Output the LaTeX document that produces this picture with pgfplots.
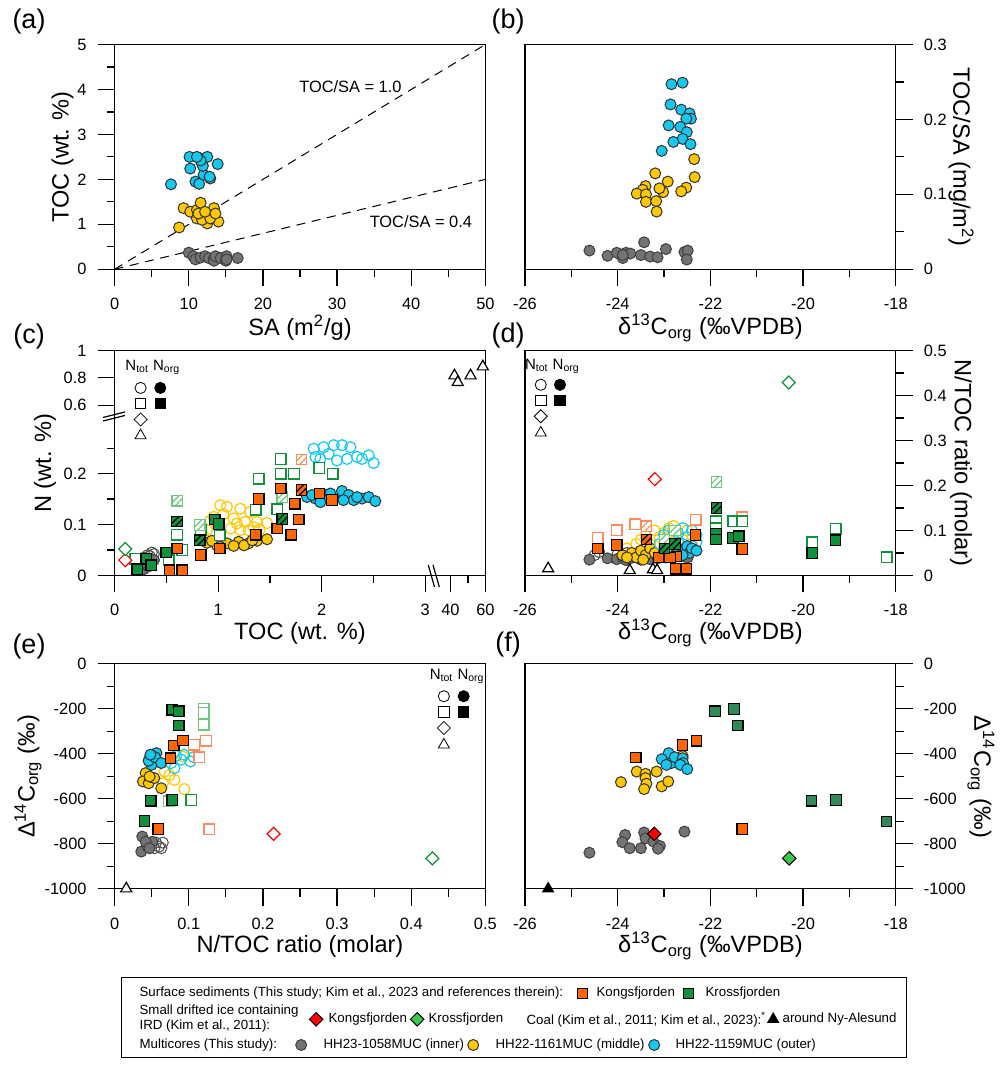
\documentclass[border=0pt]{standalone}
\usepackage{fontspec}
\setmainfont{Liberation Sans}
\usepackage{pgfplots}
\pgfplotsset{compat=1.18}

\definecolor{cgrey}{RGB}{115,115,115}
\definecolor{cyel}{RGB}{255,200,0}
\definecolor{cblue}{RGB}{20,200,240}
\definecolor{corg}{RGB}{255,102,0}
\definecolor{cgrn}{RGB}{16,145,60}
\definecolor{cgrnf}{RGB}{46,139,87}
\definecolor{lgrn}{RGB}{110,200,130}
\definecolor{lorg}{RGB}{255,140,90}
\definecolor{clime}{RGB}{60,200,80}

% hatched square mark
\pgfdeclareplotmark{hsq}{%
  \pgfpathrectangle{\pgfqpoint{-\pgfplotmarksize}{-\pgfplotmarksize}}{\pgfqpoint{2\pgfplotmarksize}{2\pgfplotmarksize}}%
  \pgfusepathqfillstroke
  \pgfpathmoveto{\pgfqpoint{-\pgfplotmarksize}{-0.4\pgfplotmarksize}}%
  \pgfpathlineto{\pgfqpoint{0.4\pgfplotmarksize}{\pgfplotmarksize}}%
  \pgfpathmoveto{\pgfqpoint{-0.4\pgfplotmarksize}{-\pgfplotmarksize}}%
  \pgfpathlineto{\pgfqpoint{\pgfplotmarksize}{0.4\pgfplotmarksize}}%
  \pgfusepathqstroke}

\newcommand\Lab{\fontsize{11.8}{14}\selectfont}
\newcommand\Tck{\fontsize{8.2}{9}\selectfont}
\newcommand\Leg{\fontsize{6.65}{7.2}\selectfont}

\pgfplotsset{
  panel/.style={scale only axis, width=185.4pt, height=112.4pt, anchor=south west,
    axis line style={line width=0.6pt}, tick style={black, line width=0.6pt},
    tick align=outside, major tick length=8.5pt, minor tick length=4pt,
    xtick pos=bottom, ytick pos=left,
    ticklabel style={font=\Tck},
    xticklabel shift=2.4pt, yticklabel shift=2pt,
    /pgf/number format/assume math mode=true, /pgf/number format/1000 sep={},
    clip=false},
  mk/.style={only marks, mark size=2.75pt},
  gF/.style={mk, mark=*, mark options={fill=cgrey, draw=black!75, line width=0.5pt}},
  yF/.style={mk, mark=*, mark options={fill=cyel, draw=black!80, line width=0.5pt}},
  bF/.style={mk, mark=*, mark options={fill=cblue, draw=black!80, line width=0.5pt}},
  gO/.style={mk, mark=o, mark options={draw=black!70, line width=0.5pt}},
  yO/.style={mk, mark=o, mark options={draw=cyel, line width=0.6pt}},
  bO/.style={mk, mark=o, mark options={draw=cblue, line width=0.6pt}},
  oF/.style={mk, mark=square*, mark size=2.65pt, mark options={fill=corg, draw=black, line width=0.6pt}},
  kF/.style={mk, mark=square*, mark size=2.65pt, mark options={fill=cgrn, draw=black, line width=0.6pt}},
  oO/.style={mk, mark=square*, mark size=2.65pt, mark options={fill=white, draw=lorg, line width=0.7pt}},
  kO/.style={mk, mark=square*, mark size=2.65pt, mark options={fill=white, draw=cgrn, line width=0.7pt}},
  kL/.style={mk, mark=square*, mark size=2.65pt, mark options={fill=white, draw=lgrn, line width=0.7pt}},
  oH/.style={mk, mark=hsq, mark size=2.65pt, mark options={fill=corg, draw=black, line width=0.6pt}},
  kH/.style={mk, mark=hsq, mark size=2.65pt, mark options={fill=cgrn, draw=black, line width=0.6pt}},
  oHL/.style={mk, mark=hsq, mark size=2.65pt, mark options={fill=white, draw=lorg, line width=0.6pt}},
  kHL/.style={mk, mark=hsq, mark size=2.65pt, mark options={fill=white, draw=lgrn, line width=0.6pt}},
  dia/.style={mk, mark=square*, mark size=2.3pt, mark options={rotate=45, fill=white, draw=#1, line width=0.6pt}},
  diaF/.style 2 args={mk, mark=square*, mark size=2.4pt, mark options={rotate=45, fill=#1, draw=#2, line width=0.5pt}},
  triO/.style={mk, mark=triangle*, mark size=3.2pt, mark options={fill=white, draw=black, line width=0.6pt}},
  triF/.style={mk, mark=triangle*, mark size=3.2pt, mark options={fill=black, draw=black}},
}

\begin{document}
\begin{tikzpicture}
\begin{scope}[x=0.5pt, y=-0.5pt, yshift=534.5pt]
\path[use as bounding box] (0,0) rectangle (1005,1069);
\end{scope}

% ---------- (a) ----------
\begin{axis}[panel, at={(57.3pt,399.85pt)},
  xmin=0, xmax=50, ymin=0, ymax=5,
  xtick={0,10,...,50}, ytick={0,1,...,5}, minor x tick num=1, minor y tick num=1]
\addplot[black, line width=0.5pt, dash pattern=on 4.5pt off 3.3pt] coordinates {(0,0) (50,5)};
\addplot[black, line width=0.5pt, dash pattern=on 4.5pt off 3.3pt] coordinates {(0,0) (50,2)};
\addplot[bF] coordinates {(7.6,1.89) (10.1,2.50) (10.2,2.24) (11.5,2.47) (11.8,2.36) (12.5,2.50) (12.0,2.10) (10.9,1.95) (11.4,1.90) (12.9,2.02) (13.9,2.34) (11.9,2.30) (11.6,2.42) (12.8,2.06) (11.1,2.50)};
\addplot[yF] coordinates {(8.7,0.93) (9.3,1.36) (10.2,1.28) (11.1,1.32) (11.6,1.48) (12.4,1.24) (13.4,1.36) (14.0,1.06) (12.5,1.02) (11.1,1.13) (11.8,1.10) (12.9,1.13) (11.3,1.24) (12.2,1.28) (13.6,1.24)};
\addplot[gF] coordinates {(10.0,0.37) (10.6,0.29) (10.9,0.22) (11.6,0.26) (12.2,0.29) (12.7,0.25) (13.4,0.25) (13.4,0.19) (13.6,0.29) (14.3,0.25) (15.0,0.19) (15.1,0.29) (15.1,0.22) (16.6,0.25)};
\node[font=\Tck] at (axis cs:31.8,4.07) {TOC/SA = 1.0};
\node[font=\Tck] at (axis cs:41.3,1.06) {TOC/SA = 0.4};
\end{axis}

% ---------- (b) ----------
\begin{axis}[panel, at={(262.5pt,399.85pt)},
  xmin=-26, xmax=-18, ymin=0, ymax=0.3,
  xtick={-26,-24,...,-18}, ytick={0,0.1,0.2,0.3}, minor x tick num=1, minor y tick num=1,
  ytick pos=right, yticklabel pos=right]
\addplot[bF] coordinates {(-22.84,0.247) (-22.60,0.249) (-22.86,0.220) (-22.63,0.213) (-22.45,0.208) (-22.42,0.201) (-22.52,0.201) (-22.90,0.192) (-22.65,0.190) (-22.51,0.183) (-22.60,0.174) (-22.80,0.170) (-22.43,0.167) (-23.05,0.158)};
\addplot[yF] coordinates {(-22.35,0.147) (-22.34,0.123) (-23.19,0.128) (-22.92,0.117) (-22.52,0.109) (-22.63,0.104) (-23.02,0.103) (-23.10,0.108) (-23.40,0.111) (-23.46,0.106) (-23.59,0.101) (-23.39,0.100) (-23.39,0.090) (-23.17,0.091) (-23.16,0.077)};
\addplot[gF] coordinates {(-24.61,0.025) (-24.22,0.018) (-24.02,0.022) (-23.82,0.022) (-23.73,0.021) (-23.89,0.015) (-23.89,0.019) (-23.50,0.019) (-23.43,0.036) (-23.30,0.017) (-23.14,0.016) (-22.96,0.027) (-22.56,0.023) (-22.49,0.025) (-22.51,0.013)};
\end{axis}

% ---------- (c) ----------
\begin{axis}[panel, at={(57.3pt,246.8pt)},
  xmin=0, xmax=3.581, ymin=0, ymax=0.442,
  xtick={0,1,2,3,3.243,3.581}, xticklabels={0,1,2,3,40,60}, minor xtick={0.5,1.5,2.5,3.412},
  ytick={0,0.1,0.2,0.3348,0.3884,0.442}, yticklabels={0,0.1,0.2,0.6,0.8,1}, minor ytick={0.05,0.15,0.25}]
\addplot[gO] coordinates {(0.28,0.035) (0.32,0.040) (0.36,0.045) (0.30,0.030) (0.34,0.038) (0.38,0.042) (0.33,0.025) (0.26,0.028)};
\addplot[gF] coordinates {(0.25,0.015) (0.28,0.012) (0.31,0.020) (0.33,0.018) (0.36,0.025) (0.30,0.030) (0.38,0.030) (0.27,0.025)};
\addplot[yO] coordinates {(1.02,0.138) (1.085,0.135) (1.214,0.131) (1.31,0.125) (0.956,0.115) (1.15,0.112) (1.26,0.105) (1.375,0.105) (1.472,0.103) (0.892,0.089) (0.989,0.099) (1.12,0.092) (1.214,0.089) (1.343,0.095) (0.924,0.108) (1.18,0.102) (1.295,0.089) (0.86,0.076) (1.05,0.12) (1.4,0.09)};
\addplot[yF] coordinates {(0.892,0.064) (0.989,0.059) (1.085,0.063) (1.198,0.066) (1.295,0.063) (1.375,0.068) (1.472,0.071) (1.15,0.058) (1.02,0.056) (1.25,0.059) (0.94,0.068) (1.33,0.069)};
\addplot[bO] coordinates {(1.923,0.249) (2.019,0.252) (2.116,0.256) (2.196,0.256) (2.277,0.252) (2.068,0.239) (2.245,0.229) (2.341,0.233) (2.454,0.236) (2.502,0.221) (1.987,0.229) (2.148,0.226) (2.39,0.229) (1.94,0.233)};
\addplot[bF] coordinates {(1.858,0.154) (1.94,0.151) (2.035,0.158) (2.116,0.151) (2.196,0.166) (2.261,0.158) (2.309,0.148) (2.39,0.151) (2.454,0.154) (2.518,0.146) (1.987,0.144) (2.21,0.148) (2.341,0.154) (2.084,0.161) (1.907,0.158)};
\addplot[kO] coordinates {(0.20,0.033) (0.522,0.030) (0.602,0.080) (0.654,0.050) (1.014,0.079) (1.362,0.129) (1.391,0.190) (1.604,0.229) (1.604,0.200) (1.733,0.200) (1.572,0.130) (1.978,0.211) (2.106,0.200) (0.831,0.090)};
\addplot[kHL] coordinates {(0.605,0.147) (0.821,0.099) (1.62,0.154)};
\addplot[oHL] coordinates {(1.804,0.228)};
\addplot[oF] coordinates {(0.605,0.053) (0.531,0.010) (0.654,0.010) (0.831,0.040) (1.014,0.053) (1.362,0.080) (1.391,0.150) (1.604,0.171) (1.739,0.141) (1.572,0.092) (1.707,0.080) (1.778,0.110) (1.978,0.161) (2.10,0.148)};
\addplot[kF] coordinates {(0.219,0.012) (0.306,0.033) (0.354,0.020) (0.499,0.045) (0.966,0.110) (1.005,0.101)};
\addplot[kH] coordinates {(0.602,0.106) (0.821,0.069) (1.62,0.111)};
\addplot[oH] coordinates {(1.804,0.168)};
\addplot[dia=red] coordinates {(0.103,0.030)};
\addplot[dia=cgrn] coordinates {(0.103,0.052)};
\addplot[triO, x filter/.expression={3.243+(x-40)*0.0169}, y filter/.expression={0.308+(y-0.5)*0.268}] coordinates {(42.3,0.816) (44.2,0.767) (51.5,0.816) (58.5,0.882)};
% symbol key
\node[font=\fontsize{7.5}{8}\selectfont] at (axis cs:0.369,0.408) {N\textsubscript{tot} N\textsubscript{org}};
\addplot[mk, mark=o, black, mark size=2.8pt] coordinates {(0.251,0.3686)};
\addplot[mk, mark=*, black, mark size=2.8pt] coordinates {(0.4415,0.3686)};
\addplot[mk, mark=square, black, mark size=2.6pt] coordinates {(0.251,0.3384)};
\addplot[mk, mark=square*, black, mark size=2.6pt] coordinates {(0.4415,0.3384)};
\addplot[mk, mark=square, black, mark size=2.3pt, mark options={rotate=45}] coordinates {(0.251,0.3065)};
\addplot[mk, mark=triangle, black, mark size=3.2pt] coordinates {(0.251,0.2749)};
\end{axis}

% ---------- (d) ----------
\begin{axis}[panel, at={(262.5pt,246.8pt)},
  xmin=-26, xmax=-18, ymin=0, ymax=0.5,
  xtick={-26,-24,...,-18}, ytick={0,0.1,...,0.5}, minor x tick num=1, minor y tick num=1,
  ytick pos=right, yticklabel pos=right]
\addplot[gO] coordinates {(-24.5,0.045) (-24.4,0.052) (-24.0,0.048) (-23.8,0.05) (-23.5,0.047) (-23.3,0.05) (-23.0,0.052) (-22.6,0.055) (-22.5,0.05)};
\addplot[gF] coordinates {(-24.61,0.035) (-24.22,0.038) (-24.02,0.036) (-23.89,0.040) (-23.82,0.034) (-23.73,0.038) (-23.50,0.035) (-23.43,0.040) (-23.30,0.036) (-23.14,0.038) (-22.96,0.040) (-22.56,0.042) (-22.49,0.040)};
\addplot[yO] coordinates {(-23.8,0.06) (-23.6,0.07) (-23.5,0.08) (-23.4,0.09) (-23.3,0.07) (-23.2,0.10) (-23.1,0.085) (-23.0,0.095) (-22.9,0.105) (-22.8,0.11) (-22.7,0.09) (-22.6,0.08) (-22.5,0.10) (-22.4,0.07) (-23.4,0.06) (-23.0,0.065) (-22.8,0.075) (-23.6,0.05)};
\addplot[yF] coordinates {(-23.9,0.045) (-23.7,0.05) (-23.6,0.04) (-23.5,0.055) (-23.4,0.045) (-23.3,0.06) (-23.2,0.05) (-23.1,0.04) (-23.0,0.055) (-22.9,0.045) (-23.45,0.035) (-23.8,0.04)};
\addplot[bO] coordinates {(-23.1,0.07) (-23.0,0.09) (-22.9,0.1) (-22.8,0.08) (-22.7,0.095) (-22.6,0.105) (-22.5,0.085) (-22.4,0.1) (-22.3,0.075) (-22.6,0.07) (-22.8,0.06) (-22.4,0.065) (-22.3,0.09) (-23.0,0.06)};
\addplot[bF] coordinates {(-22.9,0.055) (-22.8,0.05) (-22.7,0.06) (-22.6,0.055) (-22.5,0.065) (-22.45,0.05) (-22.4,0.06) (-22.3,0.055) (-22.6,0.045) (-22.75,0.065)};
\addplot[oO] coordinates {(-24.43,0.083) (-24.02,0.100) (-23.62,0.114) (-22.32,0.124) (-21.31,0.129)};
\addplot[oHL] coordinates {(-23.38,0.109)};
\addplot[oF] coordinates {(-24.43,0.060) (-24.02,0.068) (-23.12,0.040) (-22.73,0.042) (-22.75,0.015) (-22.52,0.015) (-22.32,0.090) (-22.87,0.040) (-21.31,0.059)};
\addplot[oH] coordinates {(-23.38,0.080)};
\addplot[kO] coordinates {(-21.88,0.120) (-21.88,0.105) (-21.51,0.120) (-21.31,0.120) (-19.80,0.074) (-19.30,0.104) (-18.20,0.040)};
\addplot[kF] coordinates {(-21.88,0.092) (-21.88,0.080) (-21.51,0.083) (-21.39,0.087) (-19.80,0.050) (-19.30,0.078)};
\addplot[kHL] coordinates {(-21.87,0.208) (-22.99,0.080) (-22.76,0.100)};
\addplot[kH] coordinates {(-21.87,0.150) (-22.99,0.060) (-22.76,0.070)};
\addplot[dia=red] coordinates {(-23.20,0.214)};
\addplot[dia=cgrn] coordinates {(-20.31,0.429)};
\addplot[triO] coordinates {(-25.50,0.015) (-23.74,0.011) (-23.24,0.013) (-23.15,0.011)};
\node[font=\fontsize{7.5}{8}\selectfont] at (axis cs:-25.41,0.465) {N\textsubscript{tot} N\textsubscript{org}};
\addplot[mk, mark=o, black, mark size=2.8pt] coordinates {(-25.66,0.424)};
\addplot[mk, mark=*, black, mark size=2.8pt] coordinates {(-25.245,0.424)};
\addplot[mk, mark=square, black, mark size=2.6pt] coordinates {(-25.66,0.389)};
\addplot[mk, mark=square*, black, mark size=2.6pt] coordinates {(-25.245,0.389)};
\addplot[mk, mark=square, black, mark size=2.3pt, mark options={rotate=45}] coordinates {(-25.66,0.354)};
\addplot[mk, mark=triangle, black, mark size=3.2pt] coordinates {(-25.66,0.317)};
\end{axis}

% ---------- (e) ----------
\begin{axis}[panel, at={(57.3pt,90.15pt)},
  xmin=0, xmax=0.5, ymin=-1000, ymax=0,
  xtick={0,0.1,...,0.5}, ytick={-1000,-800,...,0}, minor x tick num=1, minor y tick num=1]
\addplot[gO] coordinates {(0.056,-795) (0.063,-820) (0.0537,-820) (0.060,-813) (0.065,-795)};
\addplot[gF] coordinates {(0.0373,-768) (0.036,-835) (0.0445,-813) (0.051,-791) (0.042,-791) (0.047,-820)};
\addplot[yO] coordinates {(0.0675,-479) (0.0807,-516) (0.0941,-557) (0.074,-494) (0.0922,-412) (0.0652,-531)};
\addplot[yF] coordinates {(0.0418,-486) (0.0382,-523) (0.046,-531) (0.0535,-508) (0.0629,-553) (0.0472,-501)};
\addplot[bO] coordinates {(0.083,-409) (0.0897,-426) (0.1023,-434) (0.0806,-464) (0.0935,-404) (0.0765,-441) (0.1065,-415)};
\addplot[bF] coordinates {(0.0465,-426) (0.0564,-397) (0.0497,-449) (0.0459,-431) (0.0546,-415) (0.0629,-441) (0.0483,-404)};
\addplot[oO] coordinates {(0.1277,-735) (0.1233,-342) (0.114,-415) (0.107,-360)};
\addplot[oF] coordinates {(0.0589,-735) (0.0797,-363) (0.092,-341) (0.0755,-420)};
\addplot[kL] coordinates {(0.0728,-612) (0.120,-201) (0.120,-218) (0.120,-270)};
\addplot[kO] coordinates {(0.1034,-605)};
\addplot[kF] coordinates {(0.0402,-698) (0.0486,-609) (0.0779,-605) (0.0779,-204) (0.0865,-211) (0.0865,-274)};
\addplot[dia=red] coordinates {(0.2145,-756)};
\addplot[dia=cgrn] coordinates {(0.4285,-865)};
\addplot[triO] coordinates {(0.0157,-1000)};
\node[font=\fontsize{7.5}{8}\selectfont] at (axis cs:0.462,-57) {N\textsubscript{tot} N\textsubscript{org}};
\addplot[mk, mark=o, black, mark size=2.8pt] coordinates {(0.444,-144)};
\addplot[mk, mark=*, black, mark size=2.8pt] coordinates {(0.4707,-144)};
\addplot[mk, mark=square, black, mark size=2.6pt] coordinates {(0.444,-214)};
\addplot[mk, mark=square*, black, mark size=2.6pt] coordinates {(0.4707,-214)};
\addplot[mk, mark=square, black, mark size=2.3pt, mark options={rotate=45}] coordinates {(0.444,-285)};
\addplot[mk, mark=triangle, black, mark size=3.2pt] coordinates {(0.444,-360)};
\end{axis}

% ---------- (f) ----------
\begin{axis}[panel, at={(262.5pt,90.15pt)},
  xmin=-26, xmax=-18, ymin=-1000, ymax=0,
  xtick={-26,-24,...,-18}, ytick={-1000,-800,...,0}, minor x tick num=1, minor y tick num=1,
  ytick pos=right, yticklabel pos=right]
\addplot[gF] coordinates {(-24.61,-840) (-23.84,-761) (-23.90,-793) (-23.74,-820) (-23.50,-820) (-23.43,-750) (-23.40,-776) (-23.23,-790) (-23.09,-810) (-23.13,-822) (-22.56,-746)};
\addplot[yF] coordinates {(-23.93,-526) (-23.59,-479) (-23.40,-489) (-23.40,-508) (-23.38,-533) (-23.43,-557) (-23.16,-479) (-23.05,-545) (-22.91,-523) (-22.60,-410)};
\addplot[bF] coordinates {(-22.90,-397) (-23.05,-424) (-22.84,-441) (-22.77,-415) (-22.60,-420) (-22.59,-441) (-22.65,-449) (-22.50,-468) (-22.95,-449)};
\addplot[oF] coordinates {(-23.61,-416) (-22.60,-360) (-22.30,-342) (-21.31,-735)};
\addplot[mk, mark=square*, mark size=2.65pt, mark options={fill=cgrnf, draw=black, line width=0.6pt}] coordinates {(-21.90,-211) (-21.49,-201) (-21.41,-274) (-19.82,-609) (-19.29,-605) (-18.20,-701)};
\addplot[diaF={red}{black}] coordinates {(-23.21,-756)};
\addplot[diaF={clime}{black}] coordinates {(-20.30,-865)};
\addplot[triF] coordinates {(-25.50,-1000)};
\end{axis}

% ---------- legend ----------
\begin{axis}[at={(60.6pt,5.65pt)}, anchor=south west, scale only axis, width=392.5pt, height=40pt,
  xmin=0, xmax=785, ymin=0, ymax=80, xtick=\empty, ytick=\empty,
  axis line style={line width=0.6pt}, clip=false]
\node[font=\Leg, anchor=west, inner sep=0pt] at (axis cs:18,64.4) {Surface sediments (This study; Kim et al., 2023 and references therein):};
\addplot[mk, mark=square*, mark size=2.5pt, mark options={fill=corg, draw=black, line width=0.5pt}] coordinates {(461,64.4)};
\node[font=\Leg, anchor=west, inner sep=0pt] at (axis cs:475,64.4) {Kongsfjorden};
\addplot[mk, mark=square*, mark size=2.5pt, mark options={fill=cgrn, draw=black, line width=0.5pt}] coordinates {(567,64.4)};
\node[font=\Leg, anchor=west, inner sep=0pt] at (axis cs:584,64.4) {Krossfjorden};
\node[font=\Leg, anchor=west, inner sep=0pt, align=left] at (axis cs:18,39) {Small drifted ice containing\\IRD (Kim et al., 2011):};
\addplot[diaF={red}{black}] coordinates {(195,38.4)};
\node[font=\Leg, anchor=west, inner sep=0pt] at (axis cs:207,38.4) {Kongsfjorden};
\addplot[diaF={clime}{black}] coordinates {(296,38.4)};
\node[font=\Leg, anchor=west, inner sep=0pt] at (axis cs:307,38.4) {Krossfjorden};
\node[font=\Leg, anchor=west, inner sep=0pt] at (axis cs:405,38.4) {Coal (Kim et al., 2011; Kim et al., 2023):\textsuperscript{*}};
\addplot[triF] coordinates {(652,38.4)};
\node[font=\Leg, anchor=west, inner sep=0pt] at (axis cs:661,38.4) {around Ny-Alesund};
\node[font=\Leg, anchor=west, inner sep=0pt] at (axis cs:18,12.7) {Multicores (This study):};
\addplot[gF] coordinates {(180,12.7)};
\node[font=\Leg, anchor=west, inner sep=0pt] at (axis cs:202,12.7) {HH23-1058MUC (inner)};
\addplot[yF] coordinates {(352,12.7)};
\node[font=\Leg, anchor=west, inner sep=0pt] at (axis cs:374,12.7) {HH22-1161MUC (middle)};
\addplot[bF] coordinates {(533,12.7)};
\node[font=\Leg, anchor=west, inner sep=0pt] at (axis cs:554,12.7) {HH22-1159MUC (outer)};
\end{axis}

% ---------- labels (pixel frame) ----------
\begin{scope}[x=0.5pt, y=-0.5pt, yshift=534.5pt]
\node[font=\fontsize{13.5}{15}\selectfont] at (29,22) {(a)};
\node[font=\fontsize{13.5}{15}\selectfont] at (508,22) {(b)};
\node[font=\fontsize{13.5}{15}\selectfont] at (29,337) {(c)};
\node[font=\fontsize{13.5}{15}\selectfont] at (508,336) {(d)};
\node[font=\fontsize{13.5}{15}\selectfont] at (29,647) {(e)};
\node[font=\fontsize{13.5}{15}\selectfont] at (508,645) {(f)};
\node[font=\Lab] at (300,328) {SA (m\textsuperscript{2}/g)};
\node[font=\Lab] at (710.5,328) {δ\textsuperscript{13}C\textsubscript{org} (‰VPDB)};
\node[font=\Lab, rotate=90] at (62.5,157) {TOC (wt. \%)};
\node[font=\Lab, rotate=-90] at (961,157) {TOC/SA (mg/m\textsuperscript{2})};
\node[font=\Lab] at (300,633) {TOC (wt. \%)};
\node[font=\Lab] at (710.5,633) {δ\textsuperscript{13}C\textsubscript{org} (‰VPDB)};
\node[font=\Lab, rotate=90] at (45,463) {N (wt. \%)};
\node[font=\Lab, rotate=-90] at (961,463) {N/TOC ratio (molar)};
\node[font=\Lab] at (300,946) {N/TOC ratio (molar)};
\node[font=\Lab] at (710.5,946) {δ\textsuperscript{13}C\textsubscript{org} (‰VPDB)};
\node[font=\Lab, rotate=90] at (28,776.5) {Δ\textsuperscript{14}C\textsubscript{org} (‰)};
\node[font=\Lab, rotate=-90] at (981,776.5) {Δ\textsuperscript{14}C\textsubscript{org} (‰)};
% axis breaks in (c)
\draw[line width=0.6pt] (428.3,565) -- (434.5,587) (433,565) -- (439.3,587);
\draw[line width=0.6pt] (103,421) -- (125,415.5) (103,417.5) -- (125,412);
\end{scope}
\end{tikzpicture}
\end{document}
